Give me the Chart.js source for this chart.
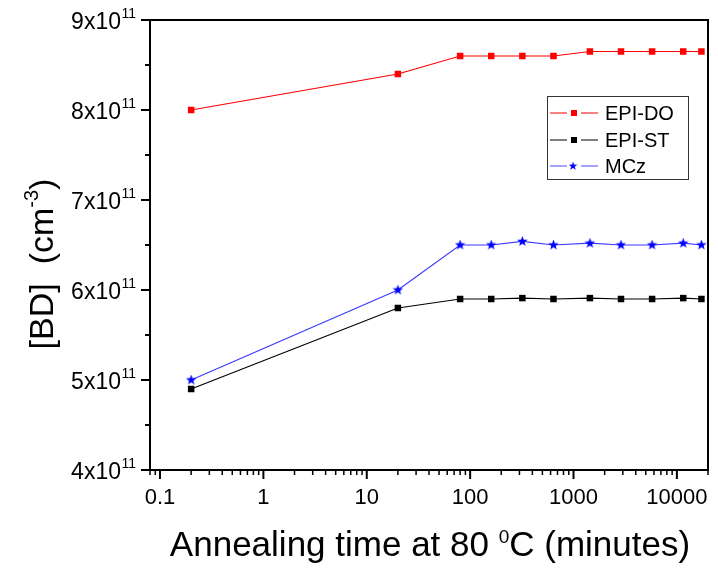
<!DOCTYPE html>
<html><head><meta charset="utf-8">
<script src="https://cdn.jsdelivr.net/npm/chart.js@4"></script>
<style>html,body{margin:0;padding:0;background:#fff}#wrap{width:718px;height:568px;position:relative}</style>
</head><body><div id="wrap"><canvas id="c"></canvas></div>
<script>
// ---- data ----
const times = [0.2, 20, 80, 160, 320, 640, 1440, 2880, 5760, 11520, 17280];
const epiDO = [8.0e11, 8.4e11, 8.6e11, 8.6e11, 8.6e11, 8.6e11, 8.65e11, 8.65e11, 8.65e11, 8.65e11, 8.65e11];
const epiST = [4.9e11, 5.8e11, 5.9e11, 5.9e11, 5.91e11, 5.9e11, 5.91e11, 5.9e11, 5.9e11, 5.91e11, 5.9e11];
const mcz   = [5.0e11, 6.0e11, 6.5e11, 6.5e11, 6.54e11, 6.5e11, 6.52e11, 6.5e11, 6.5e11, 6.52e11, 6.5e11];
const seriesNames = ['EPI-DO', 'EPI-ST', 'MCz'];
const xTickValues = [0.1, 1, 10, 100, 1000, 10000];
const xTickLabels = ['0.1', '1', '10', '100', '1000', '10000'];
const yTickValues = [4e11, 5e11, 6e11, 7e11, 8e11, 9e11];
const yTickMantissas = ['4', '5', '6', '7', '8', '9'];
const yTickExponent = '11';
const xTitleParts = ['Annealing time at 80 ', '0', 'C (minutes)'];
const yTitleParts = ['[BD]  (cm', '-3', ')'];

const FONT = "'Liberation Sans', Arial, sans-serif";

// star marker image
function makeStar(color, size) {
  const c = document.createElement('canvas');
  c.width = size; c.height = size;
  const g = c.getContext('2d');
  const cx = size / 2, cy = size / 2, R = size / 2, r = R * 0.42;
  g.beginPath();
  for (let i = 0; i < 10; i++) {
    const a = -Math.PI / 2 + i * Math.PI / 5;
    const rr = i % 2 === 0 ? R : r;
    const px = cx + rr * Math.cos(a), py = cy + rr * Math.sin(a);
    if (i === 0) g.moveTo(px, py); else g.lineTo(px, py);
  }
  g.closePath();
  g.fillStyle = color; g.fill();
  return c;
}
const starImg = makeStar('#0000ff', 11);

const toPts = arr => times.map((t, i) => ({x: t, y: arr[i]}));

const colors = ['#ff0000', '#000000', '#0000ff'];

const decorPlugin = {
  id: 'decor',
  afterDraw(chart) {
    const ctx = chart.ctx;
    const a = chart.chartArea;
    const xs = chart.scales.x, ys = chart.scales.y;
    ctx.save();
    // frame
    ctx.strokeStyle = '#000';
    ctx.lineWidth = 2;
    ctx.strokeRect(a.left, a.top, a.right - a.left, a.bottom - a.top);
    // y ticks
    ctx.lineWidth = 2;
    for (let i = 0; i < yTickValues.length; i++) {
      const y = ys.getPixelForValue(yTickValues[i]);
      ctx.beginPath(); ctx.moveTo(a.left - 9, y); ctx.lineTo(a.left, y); ctx.stroke();
      if (i < yTickValues.length - 1) {
        const ym = ys.getPixelForValue((yTickValues[i] + yTickValues[i + 1]) / 2);
        ctx.beginPath(); ctx.moveTo(a.left - 5, ym); ctx.lineTo(a.left, ym); ctx.stroke();
      }
      // label
      ctx.fillStyle = '#000';
      ctx.textAlign = 'right';
      ctx.textBaseline = 'alphabetic';
      ctx.font = '14px ' + FONT;
      const expW = ctx.measureText(yTickExponent).width;
      ctx.fillText(yTickExponent, 136, y - 2);
      ctx.font = '23px ' + FONT;
      ctx.fillText(yTickMantissas[i] + 'x10', 136 - expW - 0.5, y + 9);
    }
    // x ticks
    for (let d = 0; d < xTickValues.length; d++) {
      const dec = xTickValues[d];
      const x = xs.getPixelForValue(dec);
      ctx.lineWidth = 2;
      ctx.beginPath(); ctx.moveTo(x, a.bottom); ctx.lineTo(x, a.bottom + 9); ctx.stroke();
      ctx.font = '22px ' + FONT;
      ctx.textAlign = 'center';
      ctx.fillText(xTickLabels[d], x, 504);
    }
    // minor x ticks
    ctx.lineWidth = 1.5;
    const lo = Math.floor(Math.log10(xs.min)), hi = Math.ceil(Math.log10(xs.max));
    for (let e = lo; e <= hi; e++) {
      for (let m = 2; m <= 9; m++) {
        const v = m * Math.pow(10, e);
        if (v < xs.min || v > xs.max) continue;
        const x = xs.getPixelForValue(v);
        ctx.beginPath(); ctx.moveTo(x, a.bottom); ctx.lineTo(x, a.bottom + 5); ctx.stroke();
      }
    }
    // x title
    ctx.textAlign = 'left';
    ctx.font = '35px ' + FONT;
    const w0 = ctx.measureText(xTitleParts[0]).width;
    ctx.font = '19px ' + FONT;
    const w1 = ctx.measureText(xTitleParts[1]).width;
    ctx.font = '35px ' + FONT;
    const w2 = ctx.measureText(xTitleParts[2]).width;
    let tx = 430 - (w0 + w1 + w2) / 2;
    const by = 556;
    ctx.fillText(xTitleParts[0], tx, by); tx += w0;
    ctx.font = '19px ' + FONT;
    ctx.fillText(xTitleParts[1], tx, by - 13); tx += w1;
    ctx.font = '35px ' + FONT;
    ctx.fillText(xTitleParts[2], tx, by);
    // y title
    ctx.save();
    ctx.translate(53, 264);
    ctx.rotate(-Math.PI / 2);
    ctx.font = '34px ' + FONT;
    const v0 = ctx.measureText(yTitleParts[0]).width;
    ctx.font = '20px ' + FONT;
    const v1 = ctx.measureText(yTitleParts[1]).width;
    ctx.font = '34px ' + FONT;
    const v2 = ctx.measureText(yTitleParts[2]).width;
    let ty = -(v0 + v1 + v2) / 2;
    ctx.fillText(yTitleParts[0], ty, 0); ty += v0;
    ctx.font = '20px ' + FONT;
    ctx.fillText(yTitleParts[1], ty, -15); ty += v1;
    ctx.font = '34px ' + FONT;
    ctx.fillText(yTitleParts[2], ty, 0);
    ctx.restore();
    // legend
    ctx.lineWidth = 1;
    ctx.strokeStyle = '#333';
    ctx.strokeRect(547.5, 96.5, 141, 83);
    const rows = [113, 140, 166];
    for (let i = 0; i < seriesNames.length; i++) {
      const y = rows[i];
      ctx.strokeStyle = i === 2 ? '#4a4aff' : colors[i];
      ctx.lineWidth = 1.2;
      ctx.beginPath(); ctx.moveTo(550, y); ctx.lineTo(567, y); ctx.moveTo(581, y); ctx.lineTo(598, y); ctx.stroke();
      if (i === 2) {
        ctx.drawImage(starImg, 573 - 4.5, y - 4.5, 9, 9);
      } else {
        ctx.fillStyle = colors[i];
        ctx.fillRect(571, y - 3, 6, 6);
      }
      ctx.fillStyle = '#000';
      ctx.font = '20px ' + FONT;
      ctx.textAlign = 'left';
      ctx.fillText(seriesNames[i], 605, y + 7);
    }
    ctx.restore();
  }
};

new Chart(document.getElementById('c'), {
  type: 'line',
  data: {
    datasets: [
      {label: seriesNames[0], data: toPts(epiDO), borderColor: '#ff0000', backgroundColor: '#ff0000',
       borderWidth: 1.2, pointStyle: 'rect', pointRadius: 4.6, pointBorderWidth: 0, tension: 0},
      {label: seriesNames[1], data: toPts(epiST), borderColor: '#000000', backgroundColor: '#000000',
       borderWidth: 1.2, pointStyle: 'rect', pointRadius: 4.6, pointBorderWidth: 0, tension: 0},
      {label: seriesNames[2], data: toPts(mcz), borderColor: '#3c3cff', backgroundColor: '#0000ff',
       borderWidth: 1.2, pointStyle: starImg, pointRadius: 5, tension: 0}
    ]
  },
  options: {
    responsive: true,
    maintainAspectRatio: false,
    animation: false,
    layout: {padding: {left: 150, top: 20, right: 10, bottom: 98}},
    plugins: {legend: {display: false}, tooltip: {enabled: false}},
    scales: {
      x: {type: 'logarithmic', min: 0.08, max: 20000, display: false},
      y: {type: 'linear', min: 4e11, max: 9e11, display: false}
    }
  },
  plugins: [decorPlugin]
});
</script>
</body></html>
